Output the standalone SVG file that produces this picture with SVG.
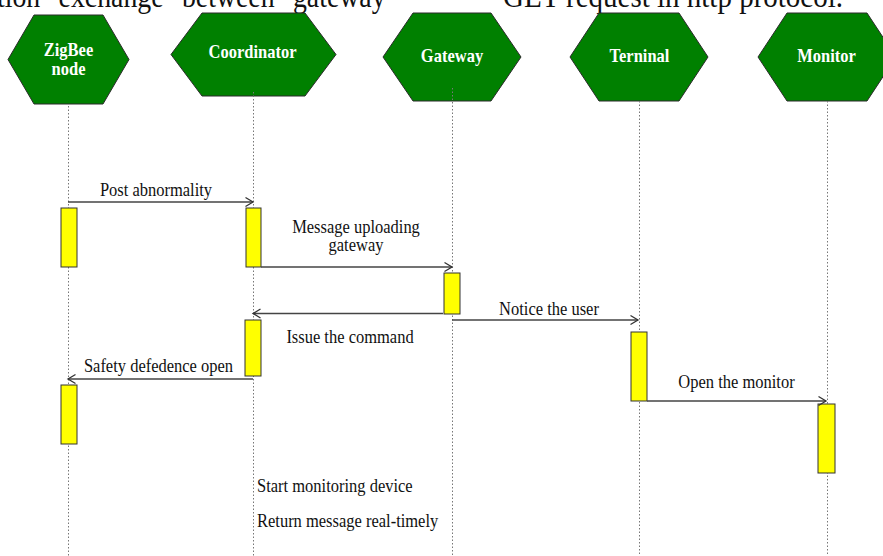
<svg xmlns="http://www.w3.org/2000/svg" width="883" height="556" viewBox="0 0 883 556">
<style>
.hex{fill:#008000;stroke:#2a2a2a;stroke-width:1}
.nl{font-family:"Liberation Serif",serif;font-weight:bold;font-size:16.5px;fill:#ffffff;text-anchor:middle}
.life{stroke:#777;stroke-width:1;stroke-dasharray:1.5,2;fill:none}
.act{fill:#ffff00;stroke:#333;stroke-width:1}
.msg{stroke:#444;stroke-width:1.3;fill:none;marker-end:url(#arr)}
.lbl{font-family:"Liberation Serif",serif;font-size:16.5px;fill:#111}
.mid{text-anchor:middle}
.top{font-family:"Liberation Serif",serif;font-size:29px;fill:#111}
</style>
<defs>
<marker id="arr" markerUnits="userSpaceOnUse" markerWidth="12" markerHeight="12" refX="8" refY="5" orient="auto" viewBox="0 0 12 10">
<path d="M0.5,0.5 L8,5 L0.5,9.5" fill="none" stroke="#333" stroke-width="1.3"/>
</marker>
</defs>
<rect width="883" height="556" fill="#ffffff"/>
<g id="caption">
<text class="top" transform="translate(-3,7) scale(1,1.12)" textLength="400" lengthAdjust="spacingAndGlyphs">tion "exchange" between "gateway"</text>
<text class="top" transform="translate(503,7) scale(1,1.12)" textLength="340" lengthAdjust="spacingAndGlyphs">GET request in http protocol.</text>
</g>
<g id="zigbee">
<polygon class="hex" points="34,15 103,15 129,59.5 103,104 34,104 8,59.5"/>
<text class="nl" transform="translate(68.5,56) scale(1,1.1)">ZigBee</text>
<text class="nl" transform="translate(68.5,75) scale(1,1.1)">node</text>
</g>
<g id="coordinator">
<polygon class="hex" points="202,13 305,13 336,54.5 305,96 202,96 171,54.5"/>
<text class="nl" transform="translate(252.5,58) scale(1,1.15)">Coordinator</text>
</g>
<g id="gateway">
<polygon class="hex" points="413,13 491,13 521,57 491,101 413,101 383,57"/>
<text class="nl" transform="translate(452,62) scale(1,1.15)">Gateway</text>
</g>
<g id="terminal">
<polygon class="hex" points="599,13 679,13 708,57 679,101 599,101 570,57"/>
<text class="nl" transform="translate(639.5,62) scale(1,1.15)">Terninal</text>
</g>
<g id="monitor">
<polygon class="hex" points="787,13 867,13 896,57 867,101 787,101 758,57"/>
<text class="nl" transform="translate(826.5,62) scale(1,1.15)">Monitor</text>
</g>
<g id="lifelines">
<line class="life" x1="68.5" y1="106" x2="68.5" y2="556"/>
<line class="life" x1="253.5" y1="92" x2="253.5" y2="556"/>
<line class="life" x1="452.5" y1="88" x2="452.5" y2="556"/>
<line class="life" x1="639.5" y1="101" x2="639.5" y2="556"/>
<line class="life" x1="827.5" y1="101" x2="827.5" y2="556"/>
</g>
<g id="activations">
<rect class="act" x="61" y="208" width="16" height="59"/>
<rect class="act" x="246" y="208" width="15" height="59"/>
<rect class="act" x="444" y="273" width="16" height="41"/>
<rect class="act" x="245" y="320" width="16" height="56"/>
<rect class="act" x="631" y="332" width="16" height="69"/>
<rect class="act" x="61" y="385" width="16" height="59"/>
<rect class="act" x="818" y="404" width="17" height="69"/>
</g>
<g id="connectors">
<path class="msg" d="M68,202 H253"/>
<path class="msg" d="M261,267 H452"/>
<path class="msg" d="M443,313.5 H253"/>
<path class="msg" d="M452,320 H638"/>
<path class="msg" d="M253,379 H68"/>
<path class="msg" d="M647,401 H826"/>
</g>
<g id="labels">
<text class="lbl mid" transform="translate(156,196) scale(1,1.08)">Post abnormality</text>
<text class="lbl mid" transform="translate(356,233) scale(1,1.08)">Message uploading</text>
<text class="lbl mid" transform="translate(356,251) scale(1,1.08)">gateway</text>
<text class="lbl mid" transform="translate(549,315) scale(1,1.08)">Notice the user</text>
<text class="lbl mid" transform="translate(350,343) scale(1,1.08)">Issue the command</text>
<text class="lbl mid" transform="translate(158.5,372) scale(1,1.08)">Safety defedence open</text>
<text class="lbl mid" transform="translate(736.5,388) scale(1,1.08)">Open the monitor</text>
<text class="lbl" transform="translate(257,492) scale(1,1.08)">Start monitoring device</text>
<text class="lbl" transform="translate(257,527) scale(1,1.08)">Return message real-timely</text>
</g>
</svg>
